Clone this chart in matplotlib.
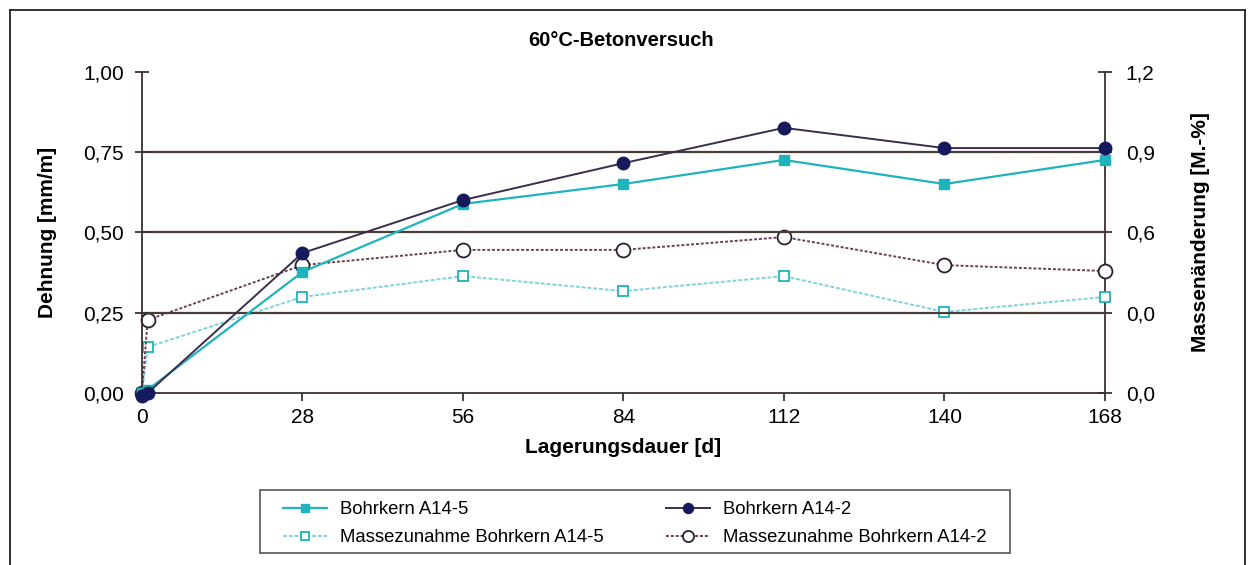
import matplotlib
matplotlib.use("Agg")
import matplotlib.pyplot as plt
from matplotlib.lines import Line2D
from matplotlib.patches import Rectangle

plt.rcParams['font.family'] = ['Liberation Sans', 'DejaVu Sans']

# Lagerungsdauer [d]
days = [0, 1, 28, 56, 84, 112, 140, 168]

# Dehnung [mm/m] (left axis)
dehnung_a14_5 = [0.00, 0.01, 0.377, 0.589, 0.651, 0.726, 0.651, 0.726]
dehnung_a14_2 = [-0.01, 0.00, 0.436, 0.601, 0.716, 0.826, 0.763, 0.763]

# Massenänderung [M.-%] (right axis)
masse_a14_5 = [0.00, 0.172, 0.359, 0.437, 0.381, 0.437, 0.303, 0.359]
masse_a14_2 = [0.00, 0.273, 0.478, 0.535, 0.535, 0.583, 0.478, 0.456]

x_ticks = [0, 28, 56, 84, 112, 140, 168]
left_ticks = [0.0, 0.25, 0.5, 0.75, 1.0]
left_labels = ["0,00", "0,25", "0,50", "0,75", "1,00"]
right_ticks = [0.0, 0.3, 0.6, 0.9, 1.2]
right_labels = ["0,0", "0,0", "0,6", "0,9", "1,2"]

cyan = "#1fb3bd"
cyan_light = "#7fd3d8"
navy = "#141a5c"
navy_line = "#3b2d4e"
brown = "#6e3e4c"
axis_col = "#3a3030"

fig = plt.figure(figsize=(12.55, 5.65), dpi=100)
ax = fig.add_axes([0.1131, 0.3044, 0.7673, 0.5682])
ax2 = ax.twinx()

# gridlines
for v in [0.25, 0.5, 0.75]:
    ax.axhline(v, color="#4a3c36", lw=1.6, zorder=1)

l1, = ax.plot(days, dehnung_a14_5, color=cyan, lw=1.6, marker="s", ms=7,
              mfc=cyan, mec=cyan, zorder=4, clip_on=False)
l2, = ax.plot(days, dehnung_a14_2, color=navy_line, lw=1.4, marker="o", ms=9,
              mfc=navy, mec=navy, zorder=5, clip_on=False)
l3, = ax2.plot(days, masse_a14_5, color=cyan_light, lw=1.4, ls=(0, (2, 1)),
               marker="s", ms=7, mfc="white", mec=cyan, mew=1.3, zorder=3,
               clip_on=False)
l4, = ax2.plot(days, masse_a14_2, color=brown, lw=1.4, ls=(0, (1.5, 1)),
               marker="o", ms=10, mfc="white", mec="#2a2030", mew=1.3, zorder=3,
               clip_on=False)

ax.set_xlim(0, 168)
ax.set_ylim(0, 1.0)
ax2.set_ylim(0, 1.2)
ax.set_xticks(x_ticks)
ax.set_xticklabels([str(t) for t in x_ticks])
ax.set_yticks(left_ticks)
ax.set_yticklabels(left_labels)
ax2.set_yticks(right_ticks)
ax2.set_yticklabels(right_labels)

for a in (ax, ax2):
    a.spines["top"].set_visible(False)
    for s in ("left", "right", "bottom"):
        a.spines[s].set_color(axis_col)
        a.spines[s].set_linewidth(1.3)
ax.spines["right"].set_visible(False)
ax2.spines["left"].set_visible(False)
ax2.spines["bottom"].set_visible(False)

ax.tick_params(axis="y", direction="inout", length=10, width=1.3, color=axis_col,
               labelsize=15, pad=8)
ax.tick_params(axis="x", direction="out", length=6, width=1.3, color=axis_col,
               labelsize=15, pad=5)
ax2.tick_params(axis="y", direction="inout", length=10, width=1.3, color=axis_col,
                labelsize=15, pad=10)

ax.set_xlabel("Lagerungsdauer [d]", fontsize=15, fontweight="bold", labelpad=8)
ax.set_ylabel("Dehnung [mm/m]", fontsize=15, fontweight="bold", labelpad=19)
ax2.set_ylabel("Massenänderung [M.-%]", fontsize=15, fontweight="bold", labelpad=26)
fig.text(0.4945, 0.929, "60°C-Betonversuch", ha="center", va="center",
         fontsize=14.5, fontweight="bold")

# strain series drawn above mass series
ax.set_zorder(ax2.get_zorder() + 1)
ax.patch.set_visible(False)

# outer frame
fig.add_artist(Line2D([0.008, 0.992], [0.982, 0.982], transform=fig.transFigure,
                      color="#222", lw=1.3))
fig.add_artist(Line2D([0.008, 0.008], [0.0, 0.982], transform=fig.transFigure,
                      color="#222", lw=1.3))
fig.add_artist(Line2D([0.992, 0.992], [0.0, 0.982], transform=fig.transFigure,
                      color="#222", lw=1.3))

# legend box drawn separately so the inner padding can differ per side
fig.add_artist(Rectangle((260 / 1255, 12 / 565), 750 / 1255, 63 / 565,
                         transform=fig.transFigure, fill=False,
                         ec="#555555", lw=1.2))
leg = fig.legend([l1, l3, l2, l4],
                 ["Bohrkern A14-5", "Massezunahme Bohrkern A14-5",
                  "Bohrkern A14-2", "Massezunahme Bohrkern A14-2"],
                 loc="upper left", bbox_to_anchor=(283 / 1255, 1 - 501 / 565),
                 ncol=2, fontsize=13.3, frameon=False,
                 handlelength=2.4, handletextpad=0.7, columnspacing=3.35,
                 markerscale=0.8, borderpad=0, labelspacing=0.6,
                 borderaxespad=0)

fig.savefig("out.png", dpi=100)
